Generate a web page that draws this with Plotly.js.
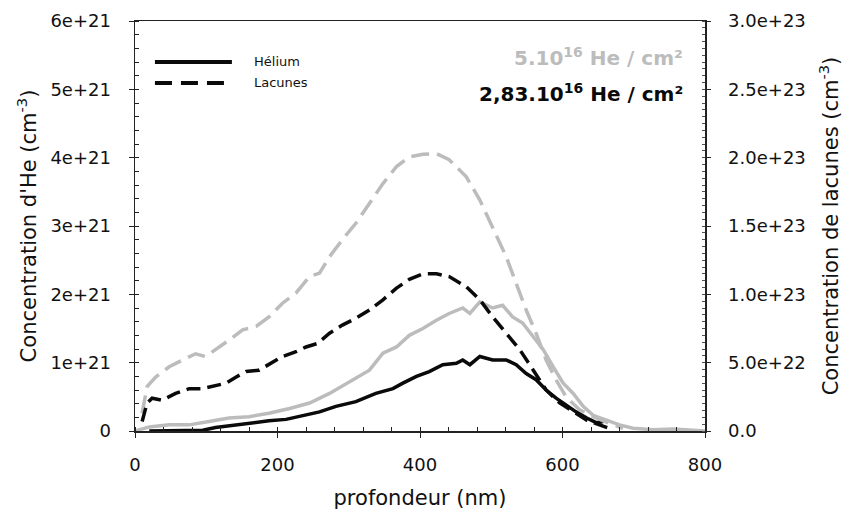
<!DOCTYPE html>
<html>
<head>
<meta charset="utf-8">
<script src="https://cdn.plot.ly/plotly-3.0.1.min.js"></script>
<style>html,body{margin:0;padding:0;background:#fff;}#chart{width:852px;height:513px;}</style>
</head>
<body>
<div id="chart"></div>
<script>
// Helium 5.10^16 He/cm² (left axis, cm^-3)
const heHighDepth = [0,20,48,76,104,132,160,188,217,245,273,301,329,348,367,385,404,423,441,460,470,484,502,516,530,544,559,573,587,601,615,629,643,662,680,699,727,755,780,800];
const heHighConc = [0,0.06e21,0.09e21,0.09e21,0.14e21,0.19e21,0.21e21,0.26e21,0.33e21,0.41e21,0.55e21,0.72e21,0.89e21,1.14e21,1.23e21,1.40e21,1.50e21,1.62e21,1.72e21,1.80e21,1.72e21,1.89e21,1.80e21,1.84e21,1.67e21,1.58e21,1.38e21,1.19e21,0.94e21,0.70e21,0.55e21,0.36e21,0.23e21,0.16e21,0.09e21,0.04e21,0.02e21,0.03e21,0.01e21,0];
// Helium 2,83.10^16 He/cm²
const heLowDepth = [20,67,95,113,142,160,188,212,235,259,282,310,338,362,376,395,413,432,451,460,470,484,502,521,535,549,563,577,591,605,619,634,648,657];
const heLowConc = [0,0.01e21,0.01e21,0.05e21,0.09e21,0.12e21,0.15e21,0.17e21,0.23e21,0.28e21,0.36e21,0.43e21,0.55e21,0.62e21,0.70e21,0.80e21,0.87e21,0.97e21,0.99e21,1.04e21,0.97e21,1.09e21,1.04e21,1.04e21,0.97e21,0.84e21,0.75e21,0.60e21,0.48e21,0.38e21,0.28e21,0.19e21,0.12e21,0.14e21];
// Lacunes 5.10^16 (right axis)
const vacHighDepth = [10,17,29,48,67,85,99,113,132,151,170,188,207,226,245,259,273,291,310,329,348,367,385,404,423,441,465,484,502,521,535,549,563,577,591,605,624,643,666,685];
const vacHighConc = [0.13e23,0.325e23,0.395e23,0.47e23,0.52e23,0.565e23,0.545e23,0.595e23,0.665e23,0.74e23,0.765e23,0.835e23,0.935e23,1.01e23,1.13e23,1.155e23,1.275e23,1.40e23,1.52e23,1.665e23,1.81e23,1.935e23,2.005e23,2.025e23,2.03e23,1.985e23,1.86e23,1.69e23,1.495e23,1.275e23,1.08e23,0.885e23,0.715e23,0.52e23,0.375e23,0.25e23,0.155e23,0.105e23,0.055e23,0.02e23];
// Lacunes 2,83.10^16
const vacLowDepth = [10,17,24,38,57,76,95,113,128,142,156,174,188,207,226,240,256,273,291,310,329,348,367,385,404,423,441,465,484,502,521,540,559,577,596,615,634,652,671];
const vacLowConc = [0.07e23,0.205e23,0.24e23,0.225e23,0.275e23,0.31e23,0.31e23,0.335e23,0.35e23,0.395e23,0.435e23,0.445e23,0.485e23,0.545e23,0.58e23,0.615e23,0.64e23,0.715e23,0.775e23,0.825e23,0.885e23,0.96e23,1.045e23,1.11e23,1.15e23,1.15e23,1.13e23,1.055e23,0.96e23,0.835e23,0.715e23,0.595e23,0.445e23,0.30e23,0.205e23,0.14e23,0.08e23,0.045e23,0.01e23];

const leftTickVals = [0,1e21,2e21,3e21,4e21,5e21,6e21];
const leftTickText = ["0","1e+21","2e+21","3e+21","4e+21","5e+21","6e+21"];
const rightTickVals = [0,0.5e23,1.0e23,1.5e23,2.0e23,2.5e23,3.0e23];
const rightTickText = ["0.0","5.0e+22","1.0e+23","1.5e+23","2.0e+23","2.5e+23","3.0e+23"];
const xTickVals = [0,200,400,600,800];

const GRAY = '#bcbcbc';
const BLACK = '#0a0a0a';
const FONT = 'DejaVu Sans, Liberation Sans, sans-serif';

const traces = [
  {x: vacHighDepth, y: vacHighConc, yaxis: 'y2', mode: 'lines', line: {color: GRAY, width: 3.5, dash: '18px,8px'}, showlegend: false},
  {x: heHighDepth, y: heHighConc, mode: 'lines', line: {color: GRAY, width: 3.5}, showlegend: false},
  {x: vacLowDepth, y: vacLowConc, yaxis: 'y2', mode: 'lines', line: {color: BLACK, width: 3.5, dash: '14px,7px'}, showlegend: false},
  {x: heLowDepth, y: heLowConc, mode: 'lines', line: {color: BLACK, width: 3.5}, showlegend: false}
];

const layout = {
  width: 852, height: 513,
  margin: {l: 135, r: 147, t: 21, b: 82},
  paper_bgcolor: '#fff', plot_bgcolor: '#fff',
  font: {family: FONT, color: '#111', size: 18},
  showlegend: false,
  xaxis: {
    range: [0, 800], tickvals: xTickVals, ticktext: xTickVals.map(String),
    showgrid: false, zeroline: false, showline: true, linecolor: '#222', linewidth: 1.5, mirror: true,
    ticks: 'outside', ticklen: 5, tickcolor: '#222',
    minor: {dtick: 40, ticks: 'inside', ticklen: 4, tickcolor: '#222'},
    tickfont: {size: 18}, ticklabelstandoff: 12,
    title: {text: 'profondeur (nm)', font: {size: 21}, standoff: 16}
  },
  yaxis: {
    range: [0, 6e21], tickvals: leftTickVals, ticktext: leftTickText,
    showgrid: false, zeroline: false, showline: true, linecolor: '#222', linewidth: 1.5, mirror: true,
    ticks: 'outside', ticklen: 5, tickcolor: '#222',
    minor: {dtick: 0.2e21, ticks: 'inside', ticklen: 4, tickcolor: '#222'},
    tickfont: {size: 18}, ticklabelstandoff: 14,
    title: {text: "Concentration d'He (cm<sup>-3</sup>)", font: {size: 21}, standoff: 8}
  },
  yaxis2: {
    overlaying: 'y', side: 'right', anchor: 'x',
    range: [0, 3e23], tickvals: rightTickVals, ticktext: rightTickText,
    showgrid: false, zeroline: false, showline: true, linecolor: '#222', linewidth: 1.5,
    ticks: 'outside', ticklen: 4, tickcolor: '#222',
    minor: {dtick: 0.05e23, ticks: 'inside', ticklen: 3, tickcolor: '#555'},
    tickfont: {size: 18}, ticklabelstandoff: 14,
    title: {text: 'Concentration de lacunes (cm<sup>-3</sup>)', font: {size: 21}, standoff: 18}
  },
  shapes: [
    {type: 'line', xref: 'paper', yref: 'paper', x0: 0.035, x1: 0.170, y0: 0.90, y1: 0.90, line: {color: BLACK, width: 4}},
    {type: 'line', xref: 'paper', yref: 'paper', x0: 0.035, x1: 0.170, y0: 0.849, y1: 0.849, line: {color: BLACK, width: 4, dash: '17px,9px'}}
  ],
  annotations: [
    {xref: 'paper', yref: 'paper', x: 0.205, y: 0.90, xanchor: 'left', yanchor: 'middle', text: 'Hélium', showarrow: false, font: {size: 13, color: '#111'}},
    {xref: 'paper', yref: 'paper', x: 0.205, y: 0.849, xanchor: 'left', yanchor: 'middle', text: 'Lacunes', showarrow: false, font: {size: 13, color: '#111'}},
    {xref: 'paper', yref: 'paper', x: 0.965, y: 0.912, xanchor: 'right', yanchor: 'middle', text: '<b>5.10<sup>16</sup> He / cm²</b>', showarrow: false, font: {size: 20, color: GRAY}},
    {xref: 'paper', yref: 'paper', x: 0.965, y: 0.824, xanchor: 'right', yanchor: 'middle', text: '<b>2,83.10<sup>16</sup> He / cm²</b>', showarrow: false, font: {size: 20, color: BLACK}}
  ]
};

Plotly.newPlot('chart', traces, layout, {displayModeBar: false, staticPlot: true});
</script>
</body>
</html>
